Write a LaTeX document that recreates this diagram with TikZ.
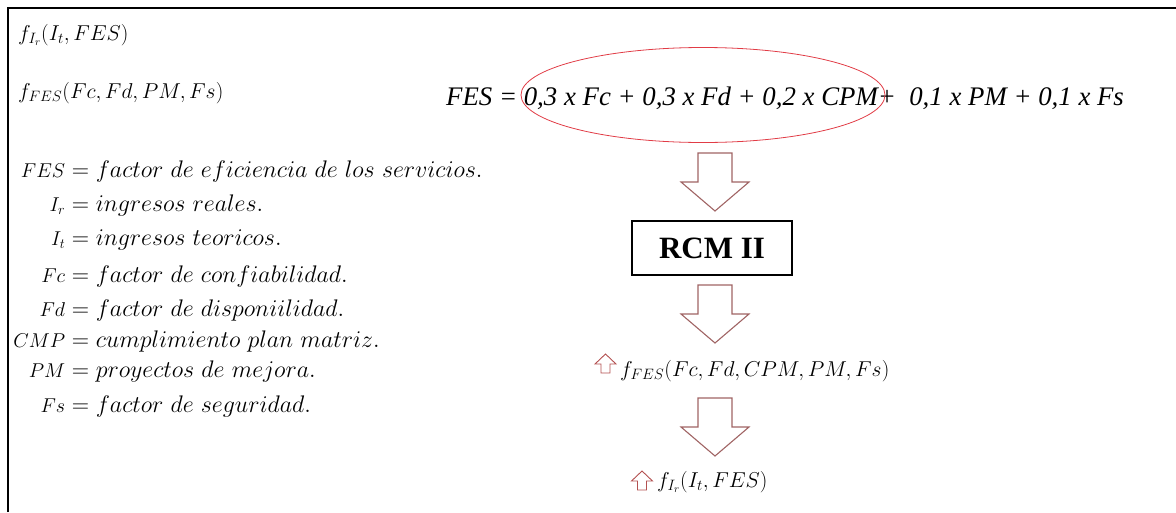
\documentclass[tikz,border=0pt]{standalone}
\usepackage{fix-cm}
\usepackage{fontspec}
\newfontfamily\timesfont{Liberation Serif}
\usetikzlibrary{positioning,shapes.geometric}

\definecolor{arrowred}{RGB}{160,100,100}
\definecolor{ovalred}{RGB}{225,60,70}

\tikzstyle{mathtext} = [inner sep=0pt,font=\fontsize{21.5}{25}\selectfont]
\tikzstyle{deftext} = [inner sep=0pt,anchor=base west,font=\fontsize{24}{28}\selectfont]
\tikzstyle{bigarrow} = [draw=arrowred,line width=1.1pt,fill=white]
\tikzstyle{smallarrow} = [draw=arrowred!80!red,line width=0.9pt]
\tikzstyle{box} = [rectangle,draw,line width=1.2pt,minimum width=160pt,minimum height=54pt,font=\timesfont\bfseries\fontsize{31}{36}\selectfont]
\tikzstyle{oval} = [ellipse,draw=ovalred,line width=.8pt,minimum width=364pt,minimum height=95pt]

% one line of the list of definitions
\newcommand{\defrow}[4]{\node[deftext] (#1) at (65,#2) {\llap{\fontsize{20}{24}\selectfont$#3$}${}=#4$};}
% small up arrow, top centre at (#1,#2)
\newcommand{\smallup}[2]{\draw[smallarrow] (#1,#2) -- ++(10.5,10) -- ++(-6,0) -- ++(0,9) -- ++(-9,0) -- ++(0,-9) -- ++(-6,0) -- cycle;}

\begin{document}
\begin{tikzpicture}[x=1pt,y=-1pt]
\useasboundingbox (0,0) rectangle (1176,512);

% frame
\draw[line width=1.5pt] (8,512) -- (8,8) -- (1176,8);

% functions
\node[mathtext,anchor=west] (fir) at (18,35) {$f_{I_r}(I_t,FES)$};
\node[mathtext,anchor=west] (ffes) at (18,93) {$f_{FES}(Fc,Fd,PM,Fs)$};

% equation
\node[anchor=base west,inner sep=0pt,font=\timesfont\itshape\fontsize{26.8}{32}\selectfont] (eq) at (446,105)
    {FES = 0,3 x Fc + 0,3 x Fd + 0,2 x CPM+ \ 0,1 x PM + 0,1 x Fs};
\node[oval] (ring) at (703,95) {};

% definitions
\defrow{dfes}{177}{FES}{factor\ de\ eficiencia\ de\ los\ servicios.}
\defrow{dir}{211}{I_r}{ingresos\ reales.}
\defrow{dit}{245}{I_t}{ingresos\ teoricos.}
\defrow{dfc}{282}{Fc}{factor\ de\ confiabilidad.}
\defrow{dfd}{316}{Fd}{factor\ de\ disponiilidad.}
\defrow{dcmp}{347}{CMP}{cumplimiento\ plan\ matriz.}
\defrow{dpm}{377}{PM}{proyectos\ de\ mejora.}
\defrow{dfs}{412}{Fs}{factor\ de\ seguridad.}

% flow
\node[box] (rcm) at (712,248) {RCM II};
\node[mathtext,anchor=west] (ffes2) at (620,371) {$f_{FES}(Fc,Fd,CPM,PM,Fs)$};
\node[mathtext,anchor=west] (fir2) at (657,482) {$f_{I_r}(I_t,FES)$};

\foreach \t in {153,285,398} {
    \draw[bigarrow] (698,\t) -- ++(34,0) -- ++(0,29) -- ++(17,0) -- ++(-34,29) -- ++(-34,-29) -- ++(17,0) -- cycle;
}
\smallup{605.5}{354}
\smallup{642}{471}

\end{tikzpicture}
\end{document}
